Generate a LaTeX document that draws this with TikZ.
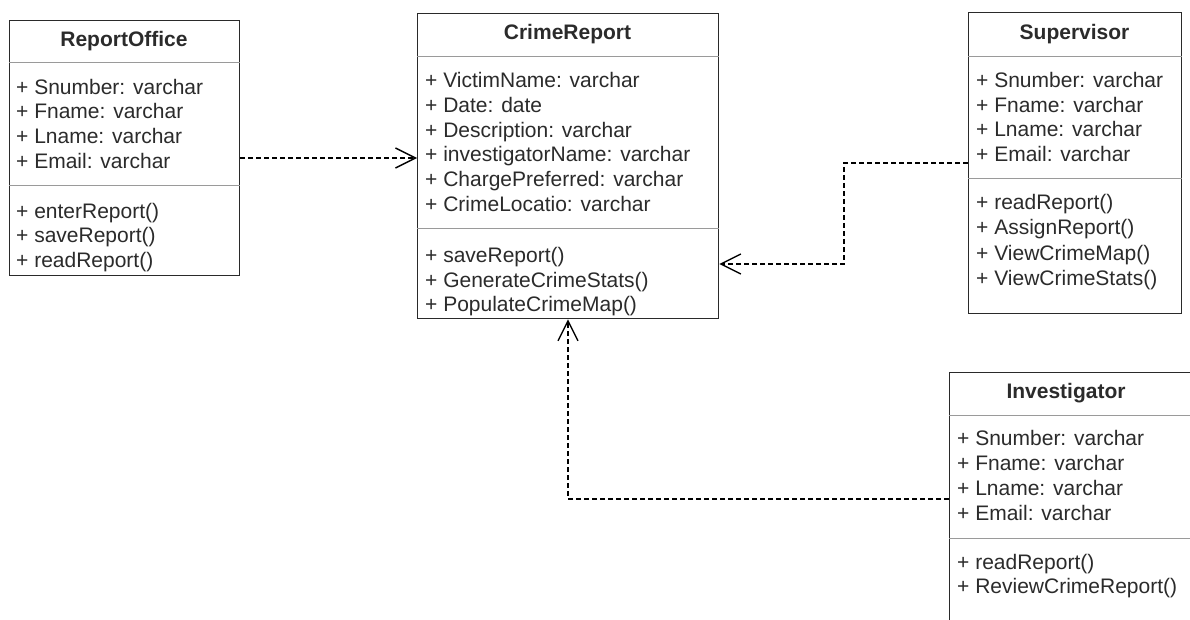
\documentclass[tikz,border=0pt]{standalone}
\usepackage{fontspec}
\setmainfont{Liberation Sans}
\usetikzlibrary{arrows.meta}
\definecolor{txt}{HTML}{2B2B2B}
\definecolor{bord}{HTML}{2A2A2A}
\definecolor{divc}{HTML}{9A9A9A}
\tikzset{
  classbox/.style={draw=bord, line width=1.3pt, fill=white, rectangle, inner sep=0pt, anchor=north west},
  divline/.style={draw=divc, line width=1pt},
  attr/.style={inner sep=0pt, anchor=base west, text=txt, font=\fontsize{21pt}{25pt}\selectfont},
  ctitle/.style={inner sep=0pt, anchor=center, text=txt, font=\fontsize{21pt}{25pt}\selectfont\bfseries},
  dep/.style={draw=black, line width=1.3pt, dash pattern=on 5pt off 3pt,
    -{Straight Barb[length=20pt, width=20pt, line width=1.4pt]}}
}
\begin{document}
\begin{tikzpicture}[x=1pt, y=-1pt]
\useasboundingbox (0,0) rectangle (1190,620);
\fill[white] (0,0) rectangle (1190,620);
\clip (0,0) rectangle (1190,620);

% ReportOffice
\node[classbox, minimum width=230pt, minimum height=255pt] (ro) at (9,20) {};
\draw[divline] (ro.west |- 0,63) -- (ro.east |- 0,63);
\draw[divline] (ro.west |- 0,186) -- (ro.east |- 0,186);
\node[ctitle] (rot) at (124,41) {ReportOffice};
\node[attr] (ro1) at (16,94.5) {+ Snumber: varchar};
\node[attr] (ro2) at (16,119) {+ Fname: varchar};
\node[attr] (ro3) at (16,144) {+ Lname: varchar};
\node[attr] (ro4) at (16,169) {+ Email: varchar};
\node[attr] (ro5) at (16,218.5) {+ enterReport()};
\node[attr] (ro6) at (16,243) {+ saveReport()};
\node[attr] (ro7) at (16,267) {+ readReport()};

% CrimeReport
\node[classbox, minimum width=301pt, minimum height=305pt] (cr) at (417,13) {};
\draw[divline] (cr.west |- 0,57) -- (cr.east |- 0,57);
\draw[divline] (cr.west |- 0,229) -- (cr.east |- 0,229);
\node[ctitle] (crt) at (567.5,34) {CrimeReport};
\node[attr] (cr1) at (425,87.5) {+ VictimName: varchar};
\node[attr] (cr2) at (425,112.5) {+ Date: date};
\node[attr] (cr3) at (425,137.5) {+ Description: varchar};
\node[attr] (cr4) at (425,162) {+ investigatorName: varchar};
\node[attr] (cr5) at (425,187) {+ ChargePreferred: varchar};
\node[attr] (cr6) at (425,211.5) {+ CrimeLocatio: varchar};
\node[attr] (cr7) at (425,262) {+ saveReport()};
\node[attr] (cr8) at (425,287) {+ GenerateCrimeStats()};
\node[attr] (cr9) at (425,311.5) {+ PopulateCrimeMap()};

% Supervisor
\node[classbox, minimum width=213pt, minimum height=301pt] (sup) at (968,12) {};
\draw[divline] (sup.west |- 0,57) -- (sup.east |- 0,57);
\draw[divline] (sup.west |- 0,179) -- (sup.east |- 0,179);
\node[ctitle] (supt) at (1074.5,34) {Supervisor};
\node[attr] (su1) at (976,88) {+ Snumber: varchar};
\node[attr] (su2) at (976,112.5) {+ Fname: varchar};
\node[attr] (su3) at (976,137) {+ Lname: varchar};
\node[attr] (su4) at (976,162) {+ Email: varchar};
\node[attr] (su5) at (976,210) {+ readReport()};
\node[attr] (su6) at (976,235) {+ AssignReport()};
\node[attr] (su7) at (976,260) {+ ViewCrimeMap()};
\node[attr] (su8) at (976,285) {+ ViewCrimeStats()};

% Investigator (extends beyond the picture edge)
\node[classbox, minimum width=260pt, minimum height=280pt] (inv) at (949,372) {};
\draw[divline] (inv.west |- 0,415) -- (inv.east |- 0,415);
\draw[divline] (inv.west |- 0,538) -- (inv.east |- 0,538);
\node[ctitle] (invt) at (1066,393) {Investigator};
\node[attr] (in1) at (957,445) {+ Snumber: varchar};
\node[attr] (in2) at (957,470) {+ Fname: varchar};
\node[attr] (in3) at (957,495) {+ Lname: varchar};
\node[attr] (in4) at (957,520) {+ Email: varchar};
\node[attr] (in5) at (957,569) {+ readReport()};
\node[attr] (in6) at (957,593) {+ ReviewCrimeReport()};

% dependencies
\draw[dep] (ro.east |- 0,158) -- (cr.west |- 0,158);
\coordinate (k1) at (844,163);
\coordinate (k2) at (844,264);
\draw[dep] (sup.west |- k1) -- (k1) -- (k2) -- (cr.east |- k2);
\coordinate (k3) at (568,499);
\draw[dep] (inv.west |- k3) -- (k3) -- (cr.south -| k3);
\end{tikzpicture}
\end{document}
